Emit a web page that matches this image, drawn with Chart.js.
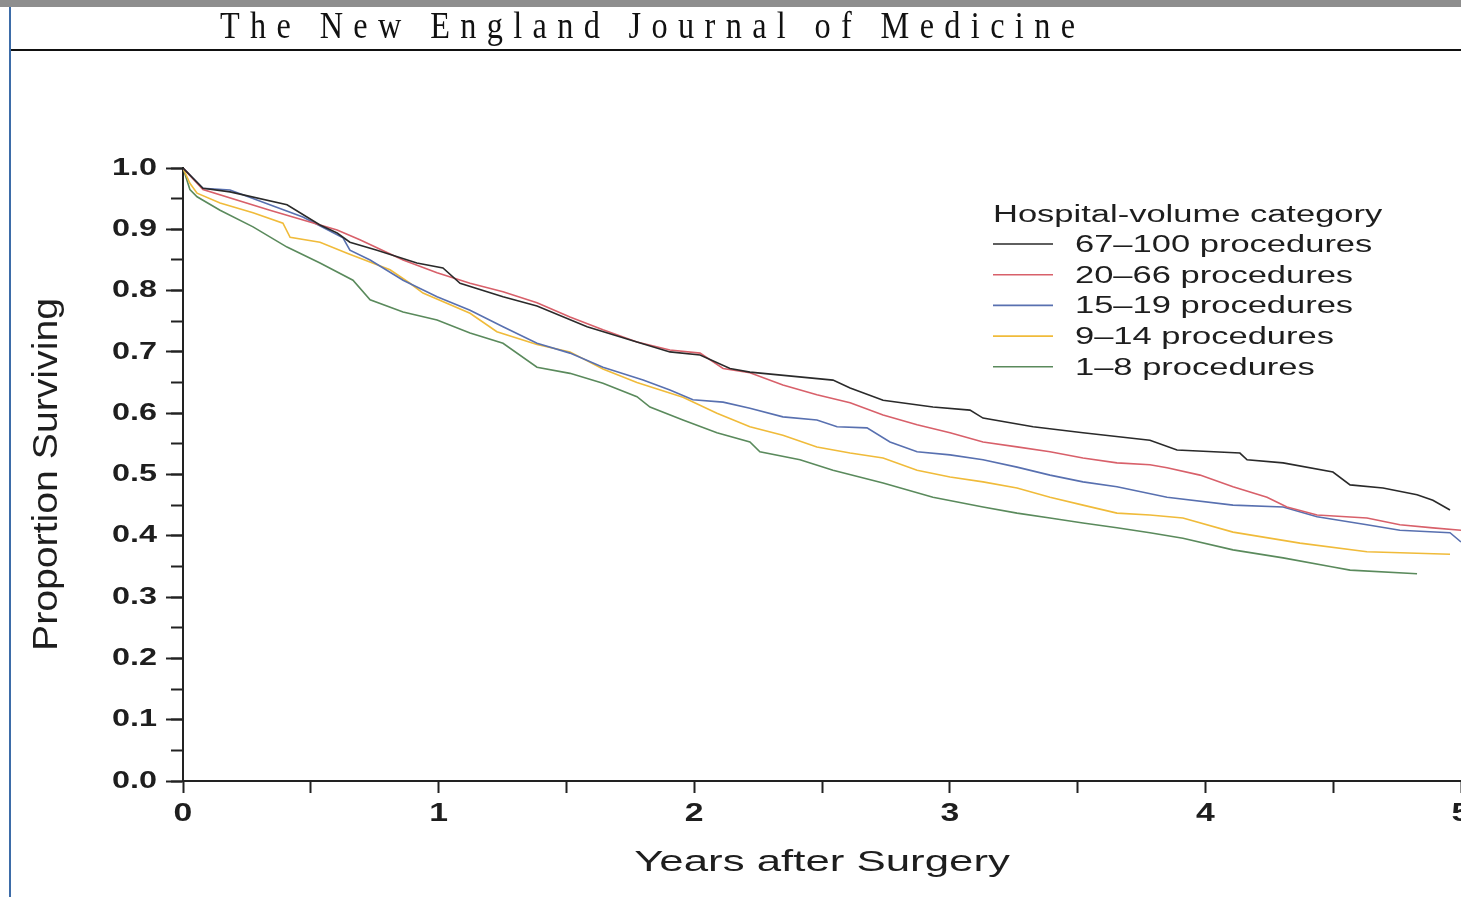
<!DOCTYPE html>
<html>
<head>
<meta charset="utf-8">
<script src="https://cdn.jsdelivr.net/npm/chart.js@4.4.1/dist/chart.umd.min.js"></script>
<style>
  html, body { margin:0; padding:0; background:#fff; width:1461px; height:897px; overflow:hidden; }
  #c { position:absolute; left:0; top:0; }
  #topbar { position:absolute; left:0; top:0; width:1461px; height:7px; background:#8e8e8e; }
  #vline { position:absolute; left:9px; top:7px; width:2px; height:890px; background:#3d6ca8; }
  #hline { position:absolute; left:11px; top:49px; width:1450px; height:2px; background:#111; }
  #title { position:absolute; left:220px; top:6px; font-family:'Liberation Serif', 'DejaVu Serif', serif;
           font-size:38px; line-height:38px; color:#111; white-space:nowrap;
           transform:scaleX(0.85); transform-origin:0 0; }
</style>
</head>
<body>
<canvas id="c" width="1461" height="897"></canvas>
<div id="topbar"></div>
<div id="vline"></div>
<div id="hline"></div>
<div id="title">The New England Journal of Medicine</div>
<script>
// ---------------- data ----------------
const categories = ['67–100 procedures', '20–66 procedures', '15–19 procedures', '9–14 procedures', '1–8 procedures'];
const legendTitle = 'Hospital-volume category';
const xTitle = 'Years after Surgery';
const yTitle = 'Proportion Surviving';
const xTickLabels = ['0', '1', '2', '3', '4', '5'];
const yTickLabels = ['0.0', '0.1', '0.2', '0.3', '0.4', '0.5', '0.6', '0.7', '0.8', '0.9', '1.0'];

// years after surgery / proportion surviving
const years67 = [0, 0.078, 0.184, 0.407, 0.536, 0.603, 0.653, 0.759, 0.915, 1.017, 1.084, 1.252, 1.385, 1.581, 1.776, 1.905, 2.023, 2.140, 2.218, 2.543, 2.610, 2.739, 2.934, 3.079, 3.130, 3.326, 3.521, 3.783, 3.889, 4.135, 4.163, 4.304, 4.499, 4.566, 4.695, 4.828, 4.890, 4.957];
const surv67  = [1.0, 0.967, 0.961, 0.940, 0.907, 0.894, 0.879, 0.866, 0.845, 0.837, 0.812, 0.790, 0.775, 0.741, 0.716, 0.700, 0.695, 0.673, 0.667, 0.654, 0.641, 0.621, 0.610, 0.605, 0.592, 0.578, 0.568, 0.556, 0.540, 0.535, 0.524, 0.519, 0.504, 0.483, 0.478, 0.467, 0.458, 0.442];

const years20 = [0, 0.078, 0.340, 0.603, 0.692, 0.861, 0.994, 1.123, 1.252, 1.385, 1.514, 1.643, 1.776, 1.905, 2.023, 2.113, 2.218, 2.347, 2.480, 2.610, 2.739, 2.872, 3.001, 3.130, 3.263, 3.392, 3.521, 3.654, 3.783, 3.850, 3.979, 4.108, 4.241, 4.319, 4.437, 4.632, 4.761, 4.890, 5.0];
const surv20  = [1.0, 0.965, 0.931, 0.899, 0.883, 0.850, 0.829, 0.812, 0.798, 0.780, 0.757, 0.736, 0.716, 0.703, 0.698, 0.673, 0.666, 0.646, 0.630, 0.617, 0.597, 0.581, 0.568, 0.553, 0.545, 0.537, 0.527, 0.519, 0.516, 0.511, 0.499, 0.480, 0.463, 0.447, 0.434, 0.429, 0.418, 0.413, 0.409];

const years15 = [0, 0.078, 0.184, 0.469, 0.626, 0.653, 0.732, 0.861, 0.994, 1.123, 1.252, 1.385, 1.514, 1.643, 1.800, 1.905, 1.995, 2.113, 2.218, 2.347, 2.480, 2.559, 2.676, 2.766, 2.872, 3.001, 3.130, 3.263, 3.392, 3.521, 3.654, 3.850, 4.108, 4.304, 4.437, 4.632, 4.761, 4.957, 5.0];
const surv15  = [1.0, 0.967, 0.964, 0.920, 0.886, 0.866, 0.850, 0.817, 0.790, 0.768, 0.741, 0.714, 0.698, 0.675, 0.654, 0.638, 0.622, 0.618, 0.608, 0.594, 0.589, 0.578, 0.576, 0.553, 0.537, 0.532, 0.524, 0.512, 0.499, 0.488, 0.480, 0.463, 0.450, 0.447, 0.431, 0.418, 0.409, 0.405, 0.390];

const years9 = [0, 0.027, 0.055, 0.145, 0.274, 0.391, 0.419, 0.536, 0.642, 0.810, 0.888, 0.939, 1.123, 1.228, 1.385, 1.514, 1.643, 1.776, 1.956, 2.089, 2.218, 2.347, 2.480, 2.610, 2.739, 2.872, 3.001, 3.130, 3.263, 3.392, 3.521, 3.654, 3.783, 3.912, 4.108, 4.370, 4.632, 4.957];
const surv9  = [1.0, 0.975, 0.959, 0.943, 0.927, 0.910, 0.887, 0.879, 0.861, 0.834, 0.812, 0.796, 0.763, 0.733, 0.712, 0.700, 0.672, 0.650, 0.626, 0.600, 0.578, 0.564, 0.545, 0.535, 0.527, 0.507, 0.496, 0.488, 0.478, 0.463, 0.450, 0.437, 0.434, 0.429, 0.406, 0.388, 0.374, 0.370];

const years1 = [0, 0.027, 0.055, 0.145, 0.274, 0.407, 0.536, 0.665, 0.732, 0.861, 0.994, 1.123, 1.252, 1.385, 1.514, 1.643, 1.776, 1.827, 1.956, 2.089, 2.218, 2.257, 2.414, 2.543, 2.739, 2.934, 3.130, 3.263, 3.392, 3.521, 3.654, 3.783, 3.912, 4.108, 4.304, 4.499, 4.566, 4.828];
const surv1  = [1.0, 0.965, 0.953, 0.931, 0.904, 0.871, 0.845, 0.817, 0.785, 0.765, 0.752, 0.731, 0.714, 0.675, 0.665, 0.649, 0.627, 0.610, 0.589, 0.568, 0.553, 0.537, 0.524, 0.507, 0.486, 0.463, 0.447, 0.437, 0.429, 0.421, 0.413, 0.405, 0.396, 0.377, 0.364, 0.349, 0.344, 0.338];

const seriesYears = [years67, years20, years15, years9, years1];
const seriesSurv  = [surv67, surv20, surv15, surv9, surv1];
const seriesColors = ['#2a2a2a', '#d8606a', '#5870b0', '#f0bb3a', '#5a8a5c'];

// ---------------- header title spacing ----------------
const tEl = document.getElementById('title');
const squeeze = 0.85;
const w0 = tEl.getBoundingClientRect().width / squeeze;
const n = tEl.textContent.length;
tEl.style.letterSpacing = ((855 / squeeze - w0) / (n - 1)) + 'px';

// ---------------- wide-type rendering ----------------
const FONT = "'Liberation Sans', Arial, sans-serif";
const textStretch = new Map();
xTickLabels.forEach(t => textStretch.set(t, 1.35));
yTickLabels.forEach(t => textStretch.set(t, 1.35));
textStretch.set(xTitle, 1.46);
textStretch.set(yTitle, 1.12);
textStretch.set(legendTitle, 1.5);
categories.forEach(t => textStretch.set(t, 1.5));

const canvas = document.getElementById('c');
const ctx0 = canvas.getContext('2d');
const origFill = ctx0.fillText;
ctx0.fillText = function (text, x, y, maxWidth) {
  const k = textStretch.get(String(text)) || 1;
  if (k === 1) {
    return maxWidth === undefined ? origFill.call(this, text, x, y) : origFill.call(this, text, x, y, maxWidth);
  }
  this.save();
  this.translate(x, y);
  this.scale(k, 1);
  if (maxWidth === undefined) origFill.call(this, text, 0, 0);
  else origFill.call(this, text, 0, 0, maxWidth / k);
  this.restore();
};

// ---------------- legend plugin ----------------
const volumeLegend = {
  id: 'volumeLegend',
  afterDraw(chart, args, opts) {
    const ctx = chart.ctx;
    ctx.save();
    ctx.fillStyle = '#1e1e1e';
    ctx.textAlign = 'left';
    ctx.textBaseline = 'alphabetic';
    ctx.font = `23px ${FONT}`;
    ctx.fillText(legendTitle, opts.x, opts.titleBaseline);
    chart.data.datasets.forEach((ds, i) => {
      const y = opts.firstY + i * opts.step;
      ctx.strokeStyle = ds.borderColor;
      ctx.lineWidth = 1.6;
      ctx.beginPath();
      ctx.moveTo(opts.x, y);
      ctx.lineTo(opts.x + opts.lineLen, y);
      ctx.stroke();
      ctx.fillText(ds.label, opts.textX, y + 8);
    });
    ctx.restore();
  }
};

function zeroPad(s) { s.paddingLeft = 0; s.paddingRight = 0; s.paddingTop = 0; s.paddingBottom = 0; }
const isInt = v => Math.abs(v - Math.round(v)) < 1e-6;

new Chart(canvas, {
  type: 'line',
  data: {
    datasets: categories.map((label, i) => ({
      label,
      data: seriesYears[i].map((t, j) => ({ x: t, y: seriesSurv[i][j] })),
      borderColor: seriesColors[i],
      backgroundColor: seriesColors[i],
      borderWidth: 1.6,
      pointRadius: 0,
      fill: false,
      tension: 0
    }))
  },
  options: {
    responsive: false,
    animation: false,
    devicePixelRatio: 1,
    layout: { padding: { left: 0, right: 0, top: 168, bottom: 0 }, autoPadding: false },
    plugins: {
      legend: { display: false },
      tooltip: { enabled: false },
      volumeLegend: { x: 993, titleBaseline: 222, firstY: 244, step: 30.7, lineLen: 60, textX: 1075 }
    },
    scales: {
      x: {
        type: 'linear', position: 'bottom', min: 0, max: 5,
        afterFit: s => { s.height = 116; zeroPad(s); },
        ticks: {
          stepSize: 0.5, autoSkip: false, maxRotation: 0, padding: 6, color: '#1e1e1e',
          font: { family: FONT, size: 25, weight: 'bold' },
          callback: v => isInt(v) ? xTickLabels[Math.round(v)] : ''
        },
        grid: { drawOnChartArea: false, drawTicks: true, tickLength: 12, tickWidth: 2, tickColor: '#222' },
        border: { display: true, color: '#222', width: 2 },
        title: { display: true, text: xTitle, color: '#1e1e1e',
                 font: { family: FONT, size: 30, lineHeight: 1.2 }, padding: { top: 0, bottom: 16.5 } }
      },
      y: {
        type: 'linear', position: 'left', min: 0, max: 1, weight: 2,
        afterFit: s => { s.width = 183; zeroPad(s); },
        ticks: {
          stepSize: 0.1, autoSkip: false, padding: 9, color: '#1e1e1e',
          font: { family: FONT, size: 24, weight: 'bold' },
          callback: (v, i) => yTickLabels[i]
        },
        grid: { drawOnChartArea: false, drawTicks: true, tickLength: 17, tickWidth: 2, tickColor: '#222' },
        border: { display: true, color: '#222', width: 2 },
        title: { display: true, text: yTitle, color: '#1e1e1e',
                 font: { family: FONT, size: 35, lineHeight: 1.2 }, padding: { top: 26.5, bottom: 0 } }
      },
      yMinor: {
        type: 'linear', position: 'left', min: 0, max: 1, weight: 0,
        afterFit: s => { s.width = 0; zeroPad(s); },
        ticks: { stepSize: 0.05, autoSkip: false, display: false },
        grid: { drawOnChartArea: false, drawTicks: true, tickLength: 12, tickWidth: 2, tickColor: '#222' },
        border: { display: false }
      }
    }
  },
  plugins: [volumeLegend]
});
</script>
</body>
</html>
